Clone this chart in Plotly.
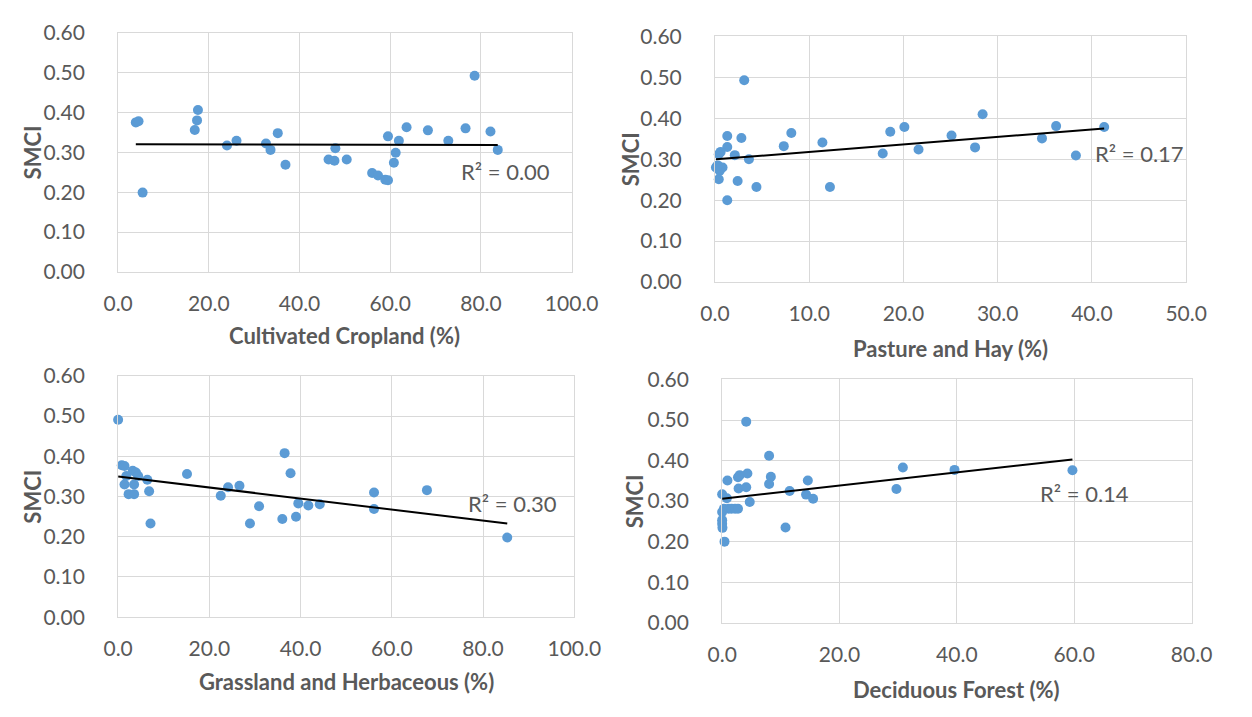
import numpy as np
import plotly.graph_objects as go

# ---- data ----
crop_x = [3.9, 4.5, 5.4, 16.9, 17.4, 17.6, 24.0, 26.1, 32.6, 33.6, 35.2, 36.9, 46.4, 47.7, 47.9, 50.4,
          56.0, 57.3, 58.9, 59.5, 59.5, 60.8, 61.2, 61.9, 63.6, 68.3, 72.8, 76.6, 78.6, 82.1, 83.7]
crop_y = [0.375, 0.378, 0.199, 0.356, 0.380, 0.406, 0.317, 0.329, 0.322, 0.306, 0.348, 0.269, 0.282, 0.279,
          0.310, 0.282, 0.248, 0.242, 0.231, 0.230, 0.340, 0.274, 0.299, 0.329, 0.363, 0.355, 0.329, 0.360,
          0.492, 0.352, 0.306]

past_x = [3.1, 28.4, 36.2, 41.3, 20.1, 18.6, 8.1, 1.3, 2.8, 25.1, 34.7, 11.4, 7.3, 27.6, 21.6, 1.3,
          0.6, 0.4, 2.1, 17.8, 38.3, 3.6, 0.2, 0.8, 0.5, 0.4, 2.4, 4.4, 12.2, 1.3, 0.1, 0.3]
past_y = [0.493, 0.410, 0.381, 0.379, 0.379, 0.367, 0.364, 0.357, 0.352, 0.358, 0.351, 0.341, 0.332, 0.329,
          0.324, 0.330, 0.318, 0.312, 0.310, 0.314, 0.309, 0.300, 0.283, 0.280, 0.272, 0.251, 0.247, 0.232,
          0.232, 0.200, 0.280, 0.285]

grass_x = [0.0, 0.8, 1.4, 3.2, 3.9, 4.4, 1.8, 6.4, 1.4, 3.5, 2.3, 3.5, 6.8, 7.1, 15.1, 22.5, 24.1, 26.6,
           30.9, 28.9, 36.5, 37.8, 36.0, 39.0, 39.5, 41.7, 44.2, 56.1, 56.1, 67.7, 85.3]
grass_y = [0.491, 0.378, 0.376, 0.364, 0.360, 0.351, 0.351, 0.342, 0.330, 0.330, 0.306, 0.306, 0.313, 0.233,
           0.356, 0.302, 0.323, 0.327, 0.276, 0.233, 0.408, 0.358, 0.244, 0.250, 0.283, 0.278, 0.281, 0.310,
           0.269, 0.316, 0.198]

dec_x = [4.1, 8.0, 30.8, 39.6, 59.7, 29.7, 2.7, 3.0, 4.3, 0.9, 8.3, 8.0, 2.8, 4.1, 11.5, 14.6, 14.3, 15.5,
         4.7, 0.0, 0.8, 0.3, 1.1, 1.6, 2.2, 2.7, 0.0, 0.0, 0.0, 0.05, 10.8, 0.4]
dec_y = [0.496, 0.412, 0.383, 0.377, 0.376, 0.330, 0.359, 0.364, 0.368, 0.351, 0.360, 0.342, 0.331, 0.334,
         0.325, 0.351, 0.316, 0.306, 0.298, 0.317, 0.307, 0.281, 0.281, 0.281, 0.281, 0.281, 0.273, 0.253,
         0.244, 0.234, 0.235, 0.200]

x_titles = ["Cultivated Cropland (%)", "Pasture and Hay (%)", "Grassland and Herbaceous (%)", "Deciduous Forest (%)"]
r2_labels = ["R² = 0.00", "R² = 0.17", "R² = 0.30", "R² = 0.14"]
x_max = [100, 50, 100, 80]
x_dtick = [20, 10, 20, 20]
y_ticks = [0.0, 0.1, 0.2, 0.3, 0.4, 0.5, 0.6]

W, H = 1252, 717
# plot-area pixel boxes: (left, right, top, bottom)
boxes = [(106.7, 576.0, 19.3, 267.3),
         (724.3, 1211.8, 23.3, 277.7),
         (106.7, 578.7, 375.0, 625.0),
         (731.7, 1217.4, 378.7, 630.7)]
title_gap = [66, 69, 67, 69]
smci_gap = [89, 88, 89, 91]
r2_pos = [(85.5, 0.251), (45.0, 0.313), (86.5, 0.283), (61.7, 0.318)]

GRID = "#D9D9D9"
TXT = "#595959"
FONT = "Lato"
BLUE = "#5B9BD5"

series = [(crop_x, crop_y), (past_x, past_y), (grass_x, grass_y), (dec_x, dec_y)]

fig = go.Figure()
layout = dict(width=W, height=H, margin=dict(l=0, r=0, t=0, b=0),
              paper_bgcolor="white", plot_bgcolor="white", showlegend=False,
              font=dict(family=FONT, color=TXT))
annotations = []

for i, ((xs, ys), box) in enumerate(zip(series, boxes)):
    n = i + 1
    xa = "x" if n == 1 else f"x{n}"
    ya = "y" if n == 1 else f"y{n}"
    l, r, t, b = box
    fig.add_trace(go.Scatter(x=xs, y=ys, mode="markers", xaxis=xa, yaxis=ya, cliponaxis=False,
                             marker=dict(color=BLUE, size=10, line=dict(width=0))))
    slope, icpt = np.polyfit(xs, ys, 1)
    tx = [min(xs), max(xs)]
    ty = [slope * v + icpt for v in tx]
    fig.add_trace(go.Scatter(x=tx, y=ty, mode="lines", xaxis=xa, yaxis=ya,
                             line=dict(color="black", width=2)))
    layout[f"xaxis{'' if n == 1 else n}"] = dict(
        domain=[l / W, r / W], anchor=ya, range=[0, x_max[i]], dtick=x_dtick[i], tick0=0,
        tickformat=".1f", showgrid=True, gridcolor=GRID, gridwidth=1, zeroline=False,
        showline=True, linecolor=GRID, linewidth=1, mirror=True, ticks="",
        ticklabelstandoff=13, tickfont=dict(family=FONT, size=21, color=TXT))
    layout[f"yaxis{'' if n == 1 else n}"] = dict(
        domain=[1 - b / H, 1 - t / H], anchor=xa, range=[0, 0.6], tickvals=y_ticks,
        tickformat=".2f", showgrid=True, gridcolor=GRID, gridwidth=1, zeroline=False,
        showline=True, linecolor=GRID, linewidth=1, mirror=True, ticks="",
        ticklabelstandoff=28, tickfont=dict(family=FONT, size=21, color=TXT))
    # axis titles
    annotations.append(dict(text=f"<b>{x_titles[i]}</b>", xref="paper", yref="paper",
                            x=(l + r) / 2 / W, y=1 - (b + title_gap[i]) / H, xanchor="center", yanchor="middle",
                            showarrow=False, font=dict(family=FONT, size=22, color=TXT)))
    annotations.append(dict(text="<b>SMCI</b>", xref="paper", yref="paper", textangle=-90,
                            x=(l - smci_gap[i]) / W, y=1 - (t + b) / 2 / H, xanchor="center", yanchor="middle",
                            showarrow=False, font=dict(family=FONT, size=22, color=TXT)))
    annotations.append(dict(text=r2_labels[i], xref=xa, yref=ya, x=r2_pos[i][0], y=r2_pos[i][1],
                            xanchor="center", yanchor="middle", showarrow=False,
                            font=dict(family=FONT, size=22, color=TXT)))

layout["annotations"] = annotations
fig.update_layout(**layout)
fig.write_html("out.html")
